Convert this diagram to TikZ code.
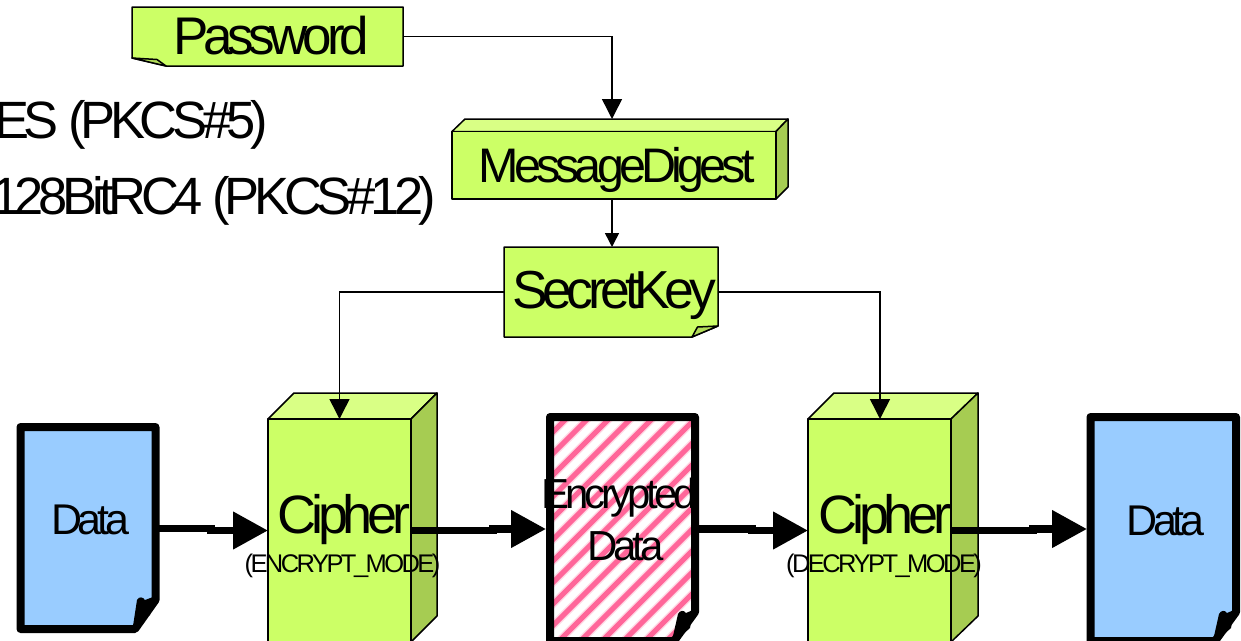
\documentclass[tikz,border=0pt]{standalone}
\usepackage{fontspec}
\setmainfont{Liberation Sans}
\newfontfamily\tightfont[LetterSpace=-10]{Liberation Sans}
\usetikzlibrary{arrows.meta}
\definecolor{gfront}{HTML}{CCFF66}
\definecolor{gtop}{HTML}{D9FF85}
\definecolor{gside}{HTML}{A6CC52}
\definecolor{dblue}{HTML}{99CCFF}
\definecolor{spink}{HTML}{FF6699}
\tikzset{
  face/.style={draw=black,line width=1.5pt,line join=round},
  anchorbox/.style={inner sep=0pt,outer sep=0pt},
  thindoc/.style={face,fill=gfront},
  doc/.style={draw=black,line width=8pt,line join=round},
  label/.style={anchor=base,inner sep=0pt,outer sep=0pt,text=black,align=center},
  lbl/.style={label,font=\tightfont\fontsize{#1}{#1}\selectfont},
  thinconn/.style={draw=black,line width=1.5pt},
  bighead/.style={-{Triangle[length=20pt,width=20pt]}},
  smallhead/.style={-{Triangle[length=14pt,width=14pt]}},
  thickconn/.style={draw=black,line width=7.5pt,-{Triangle[length=35pt,width=36pt]}},
}
\begin{document}
\begin{tikzpicture}[x=1pt,y=-1pt]
\useasboundingbox (0,0) rectangle (1241,640);
\fill[white] (0,0) rectangle (1241,640);

% Password note
\draw[thindoc] (132,7) -- (403,7) -- (403,66) -- (166,66) -- (132,58) -- cycle;
\draw[face,fill=gside!70!gfront] (132,58) -- (157,59.5) -- (166,66) -- cycle;
\node[anchorbox,minimum width=271pt,minimum height=59pt] (password) at (267.5,36.5) {};

% MessageDigest
\draw[face,fill=gtop] (452,131.5) -- (465,119) -- (788,119) -- (776,131.5) -- cycle;
\draw[face,fill=gside] (776,131.5) -- (788,119) -- (788,187) -- (776,199) -- cycle;
\draw[face,fill=gfront] (452,131.5) rectangle (776,199);
\node[anchorbox,minimum width=336pt,minimum height=80pt] (digest) at (620,159) {};

% SecretKey note
\draw[thindoc] (504,247) -- (718,247) -- (718,326) -- (692,337) -- (504,337) -- cycle;
\draw[face,fill=gside!70!gfront] (692,337) -- (697.5,327) -- (718,326) -- cycle;
\node[anchorbox,minimum width=214pt,minimum height=90pt] (secret) at (611,292) {};

% Cipher boxes
\draw[face,fill=gtop] (268,419) -- (294,393) -- (437,393) -- (411,419) -- cycle;
\draw[face,fill=gside] (411,419) -- (437,393) -- (437,616) -- (411,642) -- cycle;
\draw[face,fill=gfront] (268,419) rectangle (411,650);
\node[anchorbox,minimum width=143pt,minimum height=231pt] (cipherA) at (339.5,534.5) {};

\draw[face,fill=gtop] (808,419) -- (834,393) -- (978,393) -- (951,419) -- cycle;
\draw[face,fill=gside] (951,419) -- (978,393) -- (978,616) -- (951,642) -- cycle;
\draw[face,fill=gfront] (808,419) rectangle (951,650);
\node[anchorbox,minimum width=143pt,minimum height=231pt] (cipherB) at (879.5,534.5) {};

% Data left
\path[fill=dblue] (20.5,427) -- (155.5,427) -- (155.5,600) -- (135,629) -- (20.5,629) -- cycle;
\fill[black,line join=round] (133,626) -- (137,600) .. controls (139,596) and (143,597) .. (145,600) -- (153,597) -- (150,615) -- cycle;
\draw[doc] (20.5,427) -- (155.5,427) -- (155.5,600) -- (135,629) -- (20.5,629) -- cycle;
\node[anchorbox,minimum width=142pt,minimum height=210pt] (dataA) at (88,528) {};

% Encrypted data
\begin{scope}
\clip (550,417) -- (695,417) -- (695,612) -- (674,641) -- (550,641) -- cycle;
\fill[white] (540,410) rectangle (700,650);
\foreach \k in {0,...,20}{
  \draw[spink!25!white,line width=8pt] ({963.5+21.5*\k-280},280) -- ({963.5+21.5*\k-680},680);
}
\foreach \k in {0,...,20}{
  \draw[spink,line width=5pt] ({963.5+21.5*\k-280},280) -- ({963.5+21.5*\k-680},680);
}
\end{scope}
\fill[black] (671,645) -- (678,614) .. controls (680,610) and (684,610) .. (686,613) -- (693,610) -- (690,628) -- cycle;
\draw[doc] (550,417) -- (695,417) -- (695,612) -- (674,641) -- (550,641) -- (550,417) -- cycle;
\node[anchorbox,minimum width=153pt,minimum height=236pt] (encrypted) at (622.5,531) {};

% Data right
\path[fill=dblue] (1090.5,417) -- (1236,417) -- (1236,612) -- (1215,641) -- (1090.5,641) -- cycle;
\fill[black] (1212,645) -- (1219,614) .. controls (1221,610) and (1225,610) .. (1227,613) -- (1234,610) -- (1231,628) -- cycle;
\draw[doc] (1090.5,417) -- (1236,417) -- (1236,612) -- (1215,641) -- (1090.5,641) -- cycle;
\node[anchorbox,minimum width=153pt,minimum height=236pt] (dataB) at (1163.5,531) {};

% Connectors
\draw[thinconn,bighead] (password.east) -- (612,36.5) -- (612,119);
\draw[thinconn,smallhead] (digest.south -| 612,0) -- (secret.north -| 612,0);
\draw[thinconn,bighead] (secret.west |- 0,292) -- (339.5,292) -- (339.5,419);
\draw[thinconn,bighead] (secret.east |- 0,292) -- (880,292) -- (880,419);

\draw[thickconn] (dataA.east |- 0,528.7) -- (211,528.7) -- (211,530.5) -- (cipherA.west |- 0,530.5);
\draw[thickconn] (cipherA.east |- 0,530.5) -- (493,530.5) -- (493,529) -- (encrypted.west |- 0,529);
\draw[thickconn] (encrypted.east |- 0,529) -- (752,529) -- (752,530.5) -- (cipherB.west |- 0,530.5);
\draw[thickconn] (cipherB.east |- 0,530.5) -- (1033,530.5) -- (1033,529) -- (dataB.west |- 0,529);

% Texts
\node[lbl=53] (tpass) at (271,54) {Password};
\node[anchor=base east,inner sep=0pt,font=\tightfont\fontsize{52.5}{52.5}\selectfont] (tdes) at (268,138) {DES (PKCS\#5)};
\node[anchor=base east,inner sep=0pt,font=\tightfont\fontsize{52.5}{52.5}\selectfont] (trc) at (436,214) {128BitRC4 (PKCS\#12)};
\node[lbl=48.5] (tdig) at (616.5,182) {MessageDigest};
\node[lbl=53.5] (tsec) at (614,308) {SecretKey};
\node[lbl=43] (tdataA) at (90,534) {Data};
\node[lbl=54] (tcipA) at (344,533) {Cipher};
\node[lbl=25.5] (tmodeA) at (342.5,572) {(ENCRYPT\_MODE)};
\node[lbl=42] (tenc) at (619,508) {Encrypted};
\node[lbl=42] (tencd) at (625.5,560) {Data};
\node[lbl=54] (tcipB) at (885,533) {Cipher};
\node[lbl=25.5] (tmodeB) at (884,572) {(DECRYPT\_MODE)};
\node[lbl=43] (tdataB) at (1165.5,535) {Data};
\end{tikzpicture}
\end{document}
